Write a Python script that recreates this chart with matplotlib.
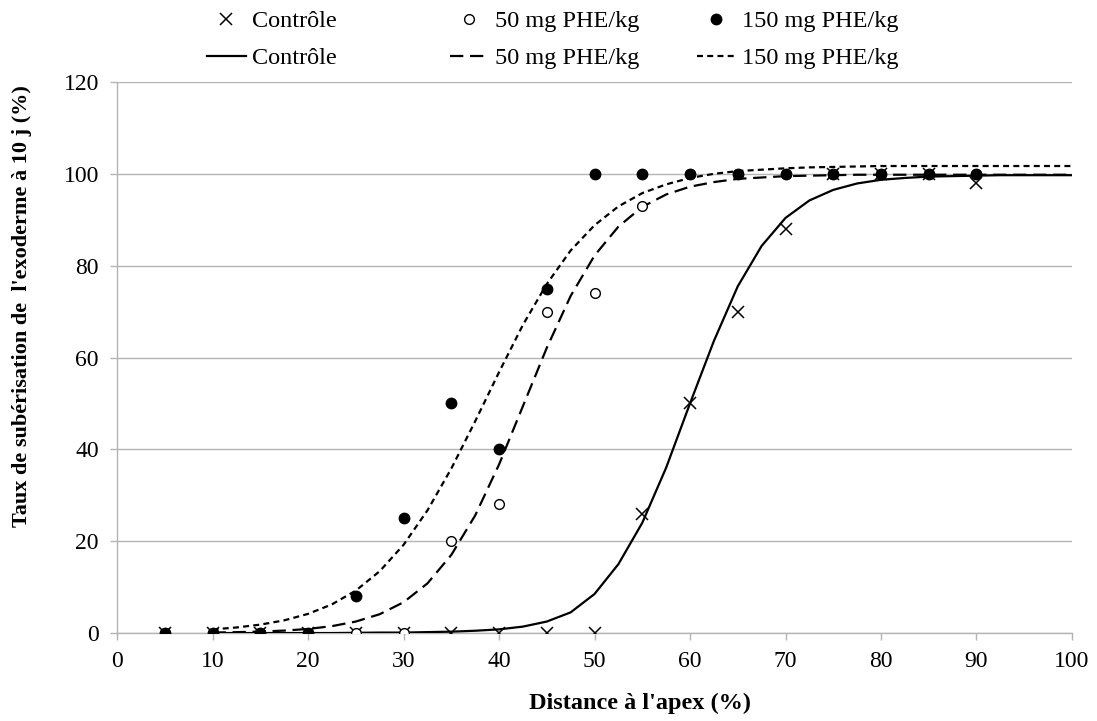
import matplotlib.pyplot as plt

plt.rcParams['font.family'] = ['Liberation Serif', 'DejaVu Serif']

# Points mesurés
distance = [5, 10, 15, 20, 25, 30, 35, 40, 45, 50, 55, 60, 65, 70, 75, 80, 85, 90]
controle = [0, 0, 0, 0, 0, 0, 0, 0, 0, 0, 26, 50, 70, 88, 100, 100, 100, 98]
phe_50 = [0, 0, 0, 0, 0, 0, 20, 28, 70, 74, 93, 100, 100, 100, 100, 100, 100, 100]
phe_150 = [0, 0, 0, 0, 8, 25, 50, 40, 75, 100, 100, 100, 100, 100, 100, 100, 100, 100]

# Courbes ajustées
x_courbe = [10, 12.5, 15, 17.5, 20, 22.5, 25, 27.5, 30, 32.5, 35, 37.5, 40, 42.5,
            45, 47.5, 50, 52.5, 55, 57.5, 60, 62.5, 65, 67.5, 70, 72.5, 75, 77.5,
            80, 82.5, 85, 87.5, 90, 92.5, 95, 97.5, 100]
courbe_controle = [0, 0, 0, 0, 0, 0, 0.05, 0.1, 0.1, 0.2, 0.3, 0.5, 0.8, 1.4,
                   2.5, 4.5, 8.5, 15, 24, 36, 50, 63.6, 75.5, 84.3, 90.4, 94.2, 96.5, 97.9,
                   98.7, 99.1, 99.4, 99.5, 99.6, 99.7, 99.7, 99.7, 99.7]
courbe_50 = [0.11, 0.19, 0.32, 0.53, 0.89, 1.5, 2.5, 4.1, 6.7, 10.8, 17.0, 25.6, 36.7, 49.4,
             62.1, 73.4, 82.2, 88.5, 92.8, 95.5, 97.2, 98.2, 98.9, 99.2, 99.5, 99.6, 99.7, 99.8,
             99.8, 99.8, 99.8, 99.8, 99.8, 99.8, 99.8, 99.8, 99.8]
courbe_150 = [0.79, 1.21, 1.83, 2.76, 4.17, 6.24, 9.24, 13.45, 19.2, 26.7, 35.8, 46.1, 56.8, 67.1,
              76.0, 83.3, 88.8, 92.9, 95.8, 97.7, 99.1, 100.0, 100.6, 100.9, 101.2, 101.4, 101.5, 101.6,
              101.7, 101.7, 101.7, 101.7, 101.7, 101.7, 101.7, 101.7, 101.7]

fig = plt.figure(figsize=(10.97, 7.21), dpi=100)
ax = fig.add_axes([0.1067, 0.122, 0.8705, 0.7643])

grille = '#b4b4b4'

# Courbes
l_ctrl, = ax.plot(x_courbe, courbe_controle, color='black', lw=1.6, zorder=3)
l_50, = ax.plot(x_courbe, courbe_50, color='black', lw=1.6, dashes=(6, 3), zorder=3)
l_150, = ax.plot(x_courbe, courbe_150, color='black', lw=1.6, dashes=(2.7, 1.9), zorder=3)

# Points
m_ctrl, = ax.plot(distance, controle, ls='none', marker='x', ms=8, mew=1.1, color='black', zorder=4)
m_50, = ax.plot(distance, phe_50, ls='none', marker='o', ms=7, mfc='white', mec='black', mew=1.0, zorder=4)
m_150, = ax.plot(distance, phe_150, ls='none', marker='o', ms=7.5, mfc='black', mec='black', zorder=5)

ax.set_xlim(0, 100)
ax.set_ylim(0, 120)
ax.set_xticks(range(0, 101, 10))
ax.set_yticks(range(0, 121, 20))
ax.yaxis.grid(True, color=grille, lw=1.0)
ax.set_axisbelow(True)
for s in ['top', 'right']:
    ax.spines[s].set_visible(False)
for s in ['left', 'bottom']:
    ax.spines[s].set_color(grille)
    ax.spines[s].set_linewidth(1.0)
ax.tick_params(axis='both', colors=grille, labelcolor='black', labelsize=17, length=5, width=1.0)
ax.tick_params(axis='y', pad=8)
ax.tick_params(axis='x', pad=8)

ax.set_xlabel("Distance à l'apex (%)", fontsize=17.5, fontweight='bold', va='center')
ax.set_ylabel("Taux de subérisation de  l'exoderme à 10 j (%)", fontsize=16, fontweight='bold', va='center')
ax.xaxis.set_label_coords(0.548, -0.127)
ax.yaxis.set_label_coords(-0.0995, 0.593)

# Légende : trois colonnes placées séparément
colonnes = [
    ([m_ctrl, l_ctrl], ['Contrôle', 'Contrôle'], 0.1887),
    ([m_50, l_50], ['50 mg PHE/kg', '50 mg PHE/kg'], 0.4102),
    ([m_150, l_150], ['150 mg PHE/kg', '150 mg PHE/kg'], 0.6354),
]
for poignees, etiquettes, x0 in colonnes:
    fig.legend(poignees, etiquettes, loc='upper left', bbox_to_anchor=(x0, 0.986),
               frameon=False, fontsize=17.5, handlelength=1.6, handletextpad=0.25,
               labelspacing=0.62, borderpad=0, borderaxespad=0)

fig.savefig('out.png', dpi=100)
